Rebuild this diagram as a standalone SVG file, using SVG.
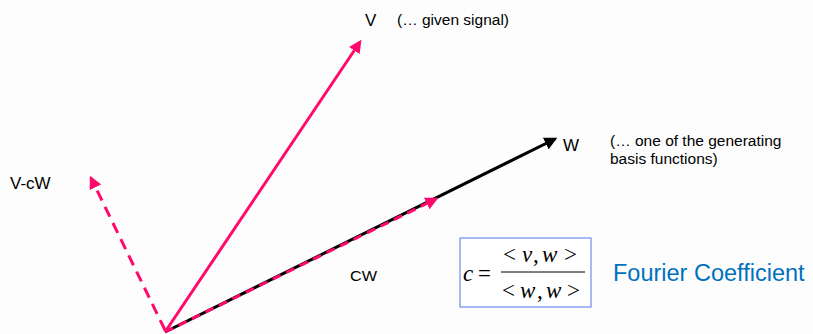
<svg xmlns="http://www.w3.org/2000/svg" width="813" height="334" viewBox="0 0 813 334">
<style>
.lbl{font-family:"Liberation Sans",Arial,sans-serif;fill:#000}
.math{font-family:"Liberation Serif","Times New Roman",serif;font-style:italic;fill:#000;font-size:23px}
.op{font-family:"Liberation Serif","Times New Roman",serif;fill:#000;font-size:23px}
.pink{stroke:#FF0A6C;stroke-width:3;fill:none}
.blk{stroke:#000;stroke-width:3;fill:none}
</style>
<defs>
<marker id="ap" viewBox="0 0 10 10" refX="8" refY="5" markerWidth="4.3" markerHeight="4.3" orient="auto" markerUnits="strokeWidth"><path d="M0,0 L10,5 L0,10 z" fill="#FF0A6C"/></marker>
<marker id="ak" viewBox="0 0 10 10" refX="8" refY="5" markerWidth="4.3" markerHeight="4.3" orient="auto" markerUnits="strokeWidth"><path d="M0,0 L10,5 L0,10 z" fill="#000"/></marker>
</defs>
<rect width="813" height="334" fill="#fdfdfd"/>
<g id="connectors">
<line id="w-vec" class="blk" x1="165" y1="332" x2="555" y2="139" marker-end="url(#ak)"/>
<line id="cw-vec" class="pink" x1="165" y1="332" x2="436" y2="199" stroke-dasharray="9,6" marker-end="url(#ap)"/>
<line id="v-vec" class="pink" x1="165" y1="332" x2="360" y2="42" marker-end="url(#ap)"/>
<line id="vcw-vec" class="pink" x1="165" y1="330" x2="91" y2="178" stroke-dasharray="11,7" marker-end="url(#ap)"/>
</g>
<g id="label-v">
<text class="lbl" x="365" y="26" font-size="17">V</text>
<text class="lbl" x="397" y="25" font-size="15.5">(… given signal)</text>
</g>
<g id="label-w">
<text class="lbl" x="563" y="151" font-size="17">W</text>
<text class="lbl" x="610" y="146" font-size="15.5">(… one of the generating</text>
<text class="lbl" x="610" y="164" font-size="15.5">basis functions)</text>
</g>
<g id="label-vcw"><text class="lbl" x="10" y="189" font-size="17">V-cW</text></g>
<g id="label-cw"><text class="lbl" x="350" y="281" font-size="15" textLength="27" lengthAdjust="spacingAndGlyphs">CW</text></g>
<g id="formula">
<rect x="460" y="238" width="131" height="69" fill="#fff" stroke="#6C8EF0" stroke-width="1.2"/>
<text class="math" x="463" y="281">c</text>
<text class="op" x="478" y="281">=</text>
<line x1="501" y1="272" x2="585" y2="272" stroke="#000" stroke-width="1"/>
<text class="op" x="503" y="262">&lt;</text>
<text class="math" x="522" y="262">v</text>
<text class="op" x="533" y="262">,</text>
<text class="math" x="542" y="262">w</text>
<text class="op" x="564" y="262">&gt;</text>
<text class="op" x="502" y="298">&lt;</text>
<text class="math" x="520" y="298">w</text>
<text class="op" x="537" y="298">,</text>
<text class="math" x="546" y="298">w</text>
<text class="op" x="567" y="298">&gt;</text>
</g>
<g id="label-fourier"><text x="613" y="281" font-family="Liberation Sans,Arial,sans-serif" font-size="23.5" fill="#0070C0">Fourier Coefficient</text></g>
</svg>
